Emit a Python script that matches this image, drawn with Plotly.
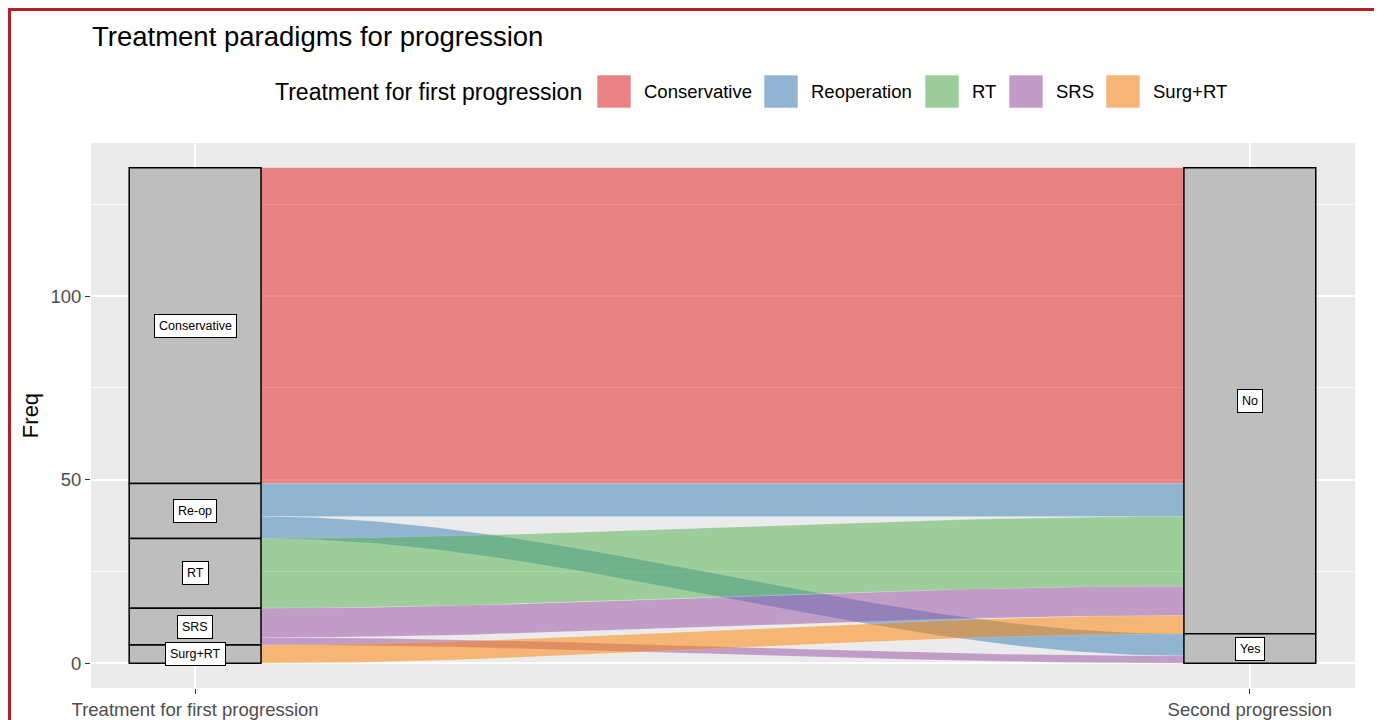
import numpy as np
import plotly.graph_objects as go

# data
treatments = ["Conservative", "Reoperation", "RT", "SRS", "Surg+RT"]
stratum_labels = ["Conservative", "Re-op", "RT", "SRS", "Surg+RT"]
second_levels = ["No", "Yes"]
count_no = [86, 9, 19, 8, 5]
count_yes = [0, 6, 0, 2, 0]
axis_labels = ["Treatment for first progression", "Second progression"]

colors = ["#E41A1C", "#377EB8", "#4DAF4A", "#984EA3", "#FF7F00"]
ALPHA = 0.5
W = 0.125  # stratum width

# page has an 8px body margin, so the figure is shifted by OFF
OFF = 8
FIG_W, FIG_H = 1382 - OFF, 720 - OFF
# plot area in page pixels
PX_L, PX_R, PX_T, PX_B = 91, 1355, 143, 688


def px(xp):
    return (xp - PX_L) / (PX_R - PX_L)


def py(yp):
    return (PX_B - yp) / (PX_B - PX_T)


def hex_rgb(hexc):
    h = hexc.lstrip("#")
    return int(h[0:2], 16), int(h[2:4], 16), int(h[4:6], 16)


def rgba(hexc, a):
    r, g, b = hex_rgb(hexc)
    return f"rgba({r},{g},{b},{a})"


def on_grey(hexc, a, bg=235):
    r, g, b = hex_rgb(hexc)
    return "rgb({},{},{})".format(*[round(a * c + (1 - a) * bg) for c in (r, g, b)])


counts = {(t, "No"): n for t, n in zip(treatments, count_no)}
counts.update({(t, "Yes"): n for t, n in zip(treatments, count_yes)})
total = sum(count_no) + sum(count_yes)

# left axis stacking: treatment strata top-down, within: No above Yes
left_pos = {}
left_strata = []
top = total
for t in treatments:
    st_top = top
    for s in second_levels:
        n = counts[(t, s)]
        left_pos[(t, s)] = (top - n, top)
        top -= n
    left_strata.append((top, st_top))

# right axis stacking: No / Yes strata, within: treatments top-down
right_pos = {}
right_strata = []
top = total
for s in second_levels:
    st_top = top
    for t in treatments:
        n = counts[(t, s)]
        right_pos[(t, s)] = (top - n, top)
        top -= n
    right_strata.append((top, st_top))

fig = go.Figure()

x0, x1 = 1 + W / 2, 2 - W / 2
tt = np.linspace(0, 1, 80)
ss = 3 * tt ** 2 - 2 * tt ** 3
xs = x0 + (x1 - x0) * tt

for i, t in enumerate(treatments):
    for s in second_levels:
        if counts[(t, s)] == 0:
            continue
        lb, ltop = left_pos[(t, s)]
        rb, rtop = right_pos[(t, s)]
        y_top = ltop + (rtop - ltop) * ss
        y_bot = lb + (rb - lb) * ss
        fig.add_trace(go.Scatter(
            x=np.concatenate([xs, xs[::-1]]),
            y=np.concatenate([y_top, y_bot[::-1]]),
            fill="toself", mode="lines",
            line=dict(width=0.4, color="rgba(255,255,255,0.35)"),
            fillcolor=rgba(colors[i], ALPHA),
            hoverinfo="skip", showlegend=False,
        ))

shapes = []
annotations = []

label_style = dict(showarrow=False, font=dict(size=12.5, color="black"),
                   bgcolor="white", bordercolor="black", borderwidth=1, borderpad=4)

# strata boxes and labels
for (b, tp), lab in zip(left_strata, stratum_labels):
    shapes.append(dict(type="rect", xref="x", yref="y", x0=1 - W / 2, x1=1 + W / 2,
                       y0=b, y1=tp, fillcolor="#BEBEBE",
                       line=dict(color="black", width=1.5), layer="above"))
    annotations.append(dict(x=1, y=(b + tp) / 2, xref="x", yref="y", text=lab,
                            **label_style))
for (b, tp), lab in zip(right_strata, second_levels):
    shapes.append(dict(type="rect", xref="x", yref="y", x0=2 - W / 2, x1=2 + W / 2,
                       y0=b, y1=tp, fillcolor="#BEBEBE",
                       line=dict(color="black", width=1.5), layer="above"))
    annotations.append(dict(x=2, y=(b + tp) / 2, xref="x", yref="y", text=lab,
                            **label_style))

# manual legend
annotations.append(dict(x=px(584), y=py(92), xref="paper", yref="paper",
                        xanchor="right", yanchor="middle", showarrow=False,
                        text="Treatment for first progression",
                        font=dict(size=23, color="black")))
sq_left = [597, 764, 925, 1009, 1106]
for i, t in enumerate(treatments):
    xl = sq_left[i]
    shapes.append(dict(type="rect", xref="paper", yref="paper",
                       x0=px(xl), x1=px(xl + 34), y0=py(108), y1=py(75),
                       fillcolor=on_grey(colors[i], ALPHA),
                       line=dict(color="rgba(255,255,255,0.6)", width=1)))
    annotations.append(dict(x=px(xl + 45), y=py(92), xref="paper", yref="paper",
                            xanchor="left", yanchor="middle", showarrow=False,
                            text=t, font=dict(size=18.5, color="black")))

# outer frame (as close to the page edge as the figure allows)
shapes.append(dict(type="rect", xref="paper", yref="paper",
                   x0=px(OFF + 1.5), x1=px(1378), y0=py(760), y1=py(OFF + 1.5),
                   line=dict(color="#B52025", width=3), fillcolor="rgba(0,0,0,0)"))

fig.update_layout(
    width=FIG_W, height=FIG_H,
    paper_bgcolor="white", plot_bgcolor="#EBEBEB",
    font=dict(family="Liberation Sans, Arial, sans-serif"),
    title=dict(text="Treatment paradigms for progression", xref="paper", x=px(92),
               xanchor="left", y=1 - (36 - OFF) / FIG_H, yanchor="middle",
               font=dict(size=27.5, color="black")),
    margin=dict(l=PX_L - OFF, r=1382 - PX_R, t=PX_T - OFF, b=720 - PX_B),
    xaxis=dict(range=[1 - 0.0987, 2 + 0.0997], tickvals=[1, 2], ticktext=axis_labels,
               showgrid=True, gridcolor="white", gridwidth=1.5, zeroline=False,
               ticks="outside", ticklen=5, tickcolor="#333333", automargin=False,
               tickfont=dict(size=18.5, color="#4D4D4D")),
    yaxis=dict(range=[-total * 0.05, total * 1.05], tickvals=[0, 50, 100],
               showgrid=True, gridcolor="white", gridwidth=1.5, zeroline=False,
               minor=dict(tickvals=[25, 75, 125], showgrid=True, gridcolor="white",
                          gridwidth=0.7),
               ticks="outside", ticklen=5, tickcolor="#333333", automargin=False,
               tickfont=dict(size=18.5, color="#4D4D4D"),
               title=dict(text="Freq", font=dict(size=22, color="black"), standoff=5)),
    shapes=shapes, annotations=annotations,
    showlegend=False,
)

fig.write_html("out.html")
